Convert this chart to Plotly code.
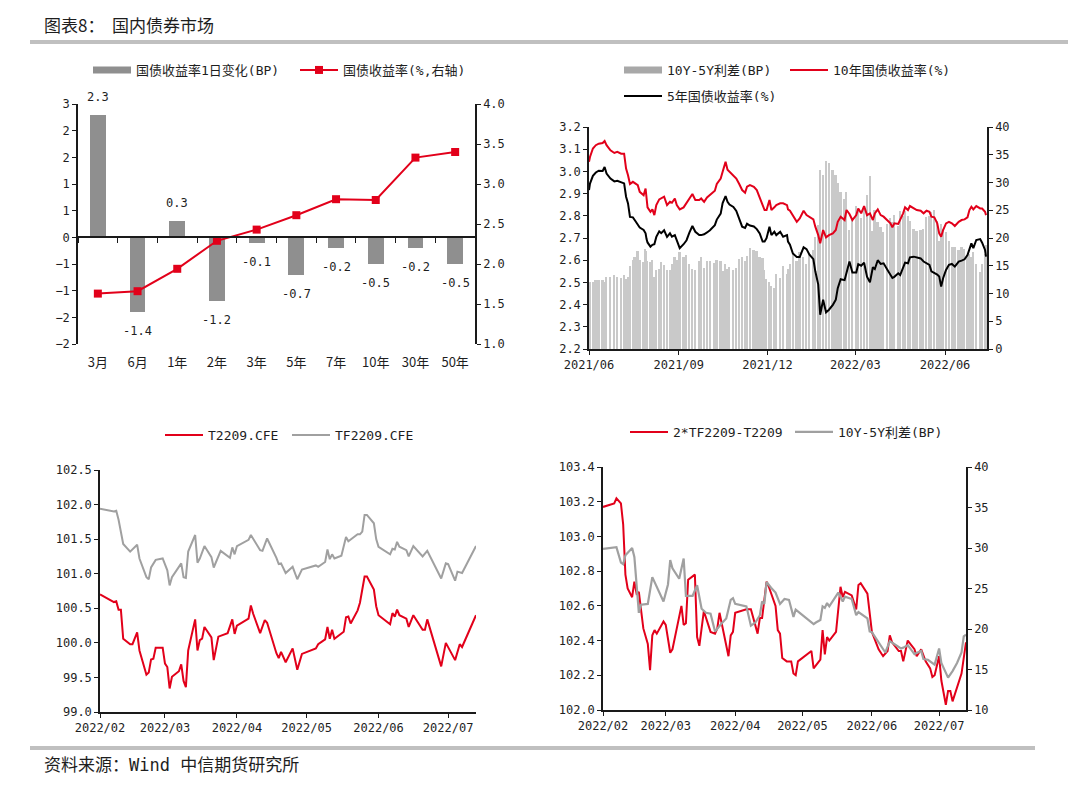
import plotly.graph_objects as go

W, H = 1068, 787
def fx(p): return p / W
def fy(p): return 1 - p / H

MONO = "DejaVu Sans Mono, Noto Sans CJK SC, sans-serif"
CJK = "Noto Sans CJK SC, DejaVu Sans Mono, sans-serif"
RED = "#e2001a"
BAR_DARK = "#8f8f8f"
BAR_LIGHT = "#c9c9c9"
LINE_GRAY = "#a0a0a0"
AX = "#1a1a1a"
TXT = "#1e1e1e"

# ---------------- Chart 1: yield curve ----------------
tenor = ["3月", "6月", "1年", "2年", "3年", "5年", "7年", "10年", "30年", "50年"]
chg_bp = [2.3, -1.4, 0.3, -1.2, -0.1, -0.7, -0.2, -0.5, -0.2, -0.5]
yield_pct = [1.63, 1.66, 1.94, 2.29, 2.43, 2.61, 2.81, 2.80, 3.33, 3.40]

# ---------------- Chart 2: 10Y / 5Y yields ----------------
yc_dates = [
    "2021-06-01", "2021-06-02", "2021-06-05", "2021-06-08", "2021-06-11", "2021-06-15", "2021-06-17", "2021-06-19", "2021-06-23", "2021-06-27",
    "2021-06-30", "2021-07-04", "2021-07-07", "2021-07-09", "2021-07-11", "2021-07-13", "2021-07-16", "2021-07-18", "2021-07-21", "2021-07-23",
    "2021-07-27", "2021-07-29", "2021-07-30", "2021-07-31", "2021-08-03", "2021-08-05", "2021-08-07", "2021-08-09", "2021-08-12", "2021-08-14",
    "2021-08-17", "2021-08-20", "2021-08-23", "2021-08-25", "2021-08-28", "2021-08-30", "2021-09-02", "2021-09-06", "2021-09-09", "2021-09-12",
    "2021-09-15", "2021-09-18", "2021-09-22", "2021-09-24", "2021-09-27", "2021-09-30", "2021-10-03", "2021-10-08", "2021-10-10", "2021-10-14",
    "2021-10-16", "2021-10-19", "2021-10-21", "2021-10-23", "2021-10-27", "2021-10-30", "2021-11-02", "2021-11-05", "2021-11-08", "2021-11-10",
    "2021-11-13", "2021-11-17", "2021-11-20", "2021-11-23", "2021-11-26", "2021-11-28", "2021-11-30", "2021-12-03", "2021-12-05", "2021-12-08",
    "2021-12-10", "2021-12-14", "2021-12-17", "2021-12-21", "2021-12-22",
    "2021-12-24", "2021-12-27", "2021-12-31", "2022-01-03", "2022-01-07", "2022-01-10", "2022-01-13", "2022-01-17", "2022-01-19", "2022-01-22",
    "2022-01-24", "2022-01-27", "2022-01-30", "2022-02-02", "2022-02-06", "2022-02-09", "2022-02-11", "2022-02-14", "2022-02-18", "2022-02-20",
    "2022-02-23", "2022-02-26", "2022-03-02", "2022-03-04", "2022-03-07", "2022-03-10", "2022-03-13", "2022-03-16", "2022-03-19", "2022-03-21",
    "2022-03-24", "2022-03-27", "2022-03-30", "2022-04-03", "2022-04-06", "2022-04-08", "2022-04-10", "2022-04-14", "2022-04-16", "2022-04-19",
    "2022-04-21", "2022-04-24", "2022-04-26", "2022-04-30", "2022-05-03", "2022-05-07", "2022-05-10", "2022-05-13", "2022-05-16", "2022-05-18",
    "2022-05-21", "2022-05-24", "2022-05-26", "2022-05-28", "2022-05-30", "2022-06-02", "2022-06-05", "2022-06-08", "2022-06-11", "2022-06-15",
    "2022-06-18", "2022-06-21", "2022-06-24", "2022-06-26", "2022-06-28", "2022-06-30", "2022-07-03", "2022-07-07", "2022-07-09", "2022-07-12",
    "2022-07-13",
]
y10 = [
    3.043, 3.065, 3.103, 3.118, 3.125, 3.128, 3.137, 3.118, 3.095, 3.083,
    3.088, 3.080, 3.080, 3.013, 2.983, 2.943, 2.953, 2.946, 2.938, 2.908,
    2.893, 2.923, 2.871, 2.838, 2.818, 2.829, 2.803, 2.848, 2.874, 2.878,
    2.886, 2.848, 2.863, 2.859, 2.878, 2.848, 2.829, 2.838, 2.859, 2.878,
    2.898, 2.871, 2.871, 2.878, 2.863, 2.883, 2.893, 2.913, 2.943, 2.968,
    2.998, 3.043, 3.008, 2.998, 2.983, 2.968, 2.943, 2.916, 2.904, 2.931,
    2.938, 2.931, 2.916, 2.886, 2.848, 2.826, 2.826, 2.871, 2.826, 2.838,
    2.848, 2.856, 2.856, 2.848, 2.829,
    2.823, 2.803, 2.773, 2.788, 2.823, 2.803, 2.796, 2.784, 2.751, 2.713,
    2.676, 2.736, 2.703, 2.713, 2.721, 2.736, 2.773, 2.796, 2.781, 2.826,
    2.808, 2.781, 2.803, 2.833, 2.811, 2.844, 2.803, 2.811, 2.781, 2.811,
    2.829, 2.803, 2.796, 2.781, 2.766, 2.748, 2.766, 2.763, 2.781, 2.811,
    2.838, 2.826, 2.844, 2.833, 2.826, 2.823, 2.811, 2.823, 2.818, 2.796,
    2.793, 2.766, 2.721, 2.706, 2.736, 2.766, 2.773, 2.766, 2.754, 2.773,
    2.781, 2.784, 2.793, 2.826, 2.841, 2.829, 2.844, 2.833, 2.833, 2.818,
    2.803,
]
y5 = [
    2.916, 2.945, 2.980, 2.995, 3.003, 3.002, 3.020, 2.990, 2.968, 2.955,
    2.958, 2.953, 2.946, 2.886, 2.856, 2.795, 2.793, 2.780, 2.762, 2.747,
    2.736, 2.721, 2.695, 2.680, 2.661, 2.669, 2.672, 2.705, 2.730, 2.722,
    2.735, 2.705, 2.721, 2.706, 2.713, 2.688, 2.654, 2.672, 2.690, 2.725,
    2.754, 2.728, 2.713, 2.713, 2.717, 2.725, 2.735, 2.758, 2.783, 2.810,
    2.857, 2.889, 2.863, 2.851, 2.840, 2.822, 2.781, 2.751, 2.745, 2.764,
    2.756, 2.752, 2.740, 2.721, 2.684, 2.684, 2.699, 2.751, 2.713, 2.728,
    2.713, 2.728, 2.706, 2.713, 2.684,
    2.670, 2.630, 2.614, 2.614, 2.658, 2.650, 2.625, 2.605, 2.550, 2.490,
    2.354, 2.422, 2.365, 2.377, 2.399, 2.422, 2.474, 2.514, 2.510, 2.544,
    2.594, 2.545, 2.545, 2.582, 2.575, 2.589, 2.526, 2.500, 2.568, 2.560,
    2.600, 2.583, 2.586, 2.556, 2.530, 2.520, 2.525, 2.541, 2.533, 2.571,
    2.589, 2.586, 2.613, 2.616, 2.613, 2.608, 2.594, 2.586, 2.579, 2.550,
    2.543, 2.535, 2.527, 2.481, 2.519, 2.556, 2.579, 2.583, 2.571, 2.594,
    2.598, 2.604, 2.623, 2.654, 2.676, 2.654, 2.691, 2.695, 2.679, 2.646,
    2.616,
]
spread_bp = [
    12, 12, 12, 12.5, 12.5, 12.5, 12, 13, 13, 13.4,
    13, 12.8, 13.4, 12.7, 13, 15, 16, 16.5, 17.6, 16.1,
    15.7, 18.1, 17.6, 15.8, 15.7, 16, 13, 14.3, 14.4, 15.6,
    15.1, 14.3, 14.2, 15.3, 16.5, 16, 17.5, 16.6, 16.9, 15.3,
    14.4, 14.3, 15.8, 16.5, 14.6, 15.8, 15.8, 15.5, 16, 15.8,
    14.1, 15.4, 14.5, 14.7, 14.3, 14.6, 16.2, 16.5, 15.9, 16.7,
    18.2, 17.9, 17.6, 16.5, 16.4, 14.2, 12.7, 12, 11.3, 11,
    13.5, 12.8, 15, 13.5, 14.5,
    15.3, 17.3, 15.9, 17.4, 16.5, 15.3, 17.1, 17.9, 20.1, 22.3,
    32.2, 31.4, 33.8, 33.6, 32.2, 31.4, 29.9, 28.2, 27.1, 28.2,
    21.4, 23.6, 25.8, 25.1, 23.6, 25.5, 27.7, 31.1, 21.3, 25.1,
    22.9, 22, 21, 22.5, 23.6, 22.8, 24.1, 22.2, 24.8, 24,
    24.9, 24, 23.1, 21.7, 21.3, 21.5, 21.7, 23.7, 23.9, 24.6,
    25, 23.1, 19.4, 22.5, 21.7, 21, 19.4, 18.3, 18.3, 17.9,
    18.3, 18, 17, 17.2, 16.5, 17.5, 15.3, 13.8, 15.4, 17.2,
    18.7,
]

# ---------------- Chart 3: T2209 / TF2209 ----------------
t_dates = [
    "2022-02-01", "2022-02-07", "2022-02-08", "2022-02-09", "2022-02-10", "2022-02-11", "2022-02-14", "2022-02-15", "2022-02-17", "2022-02-18",
    "2022-02-21", "2022-02-22", "2022-02-23", "2022-02-24", "2022-02-25", "2022-02-28", "2022-03-01", "2022-03-02", "2022-03-03", "2022-03-04",
    "2022-03-07", "2022-03-08", "2022-03-09", "2022-03-10", "2022-03-11", "2022-03-14", "2022-03-15", "2022-03-16", "2022-03-17", "2022-03-18",
    "2022-03-21", "2022-03-22", "2022-03-24", "2022-03-28", "2022-03-30", "2022-03-31", "2022-04-01", "2022-04-06", "2022-04-07", "2022-04-08",
    "2022-04-11", "2022-04-13", "2022-04-14", "2022-04-18", "2022-04-19", "2022-04-20", "2022-04-22", "2022-04-25", "2022-04-27", "2022-04-29",
    "2022-05-05", "2022-05-06", "2022-05-09", "2022-05-10", "2022-05-11", "2022-05-12", "2022-05-13", "2022-05-17", "2022-05-18", "2022-05-19",
    "2022-05-20", "2022-05-23", "2022-05-24", "2022-05-26", "2022-05-27", "2022-05-30", "2022-05-31", "2022-06-01", "2022-06-06", "2022-06-07",
    "2022-06-08", "2022-06-09", "2022-06-10", "2022-06-13", "2022-06-14", "2022-06-16", "2022-06-20", "2022-06-21", "2022-06-22", "2022-06-28",
    "2022-06-30", "2022-07-01", "2022-07-04", "2022-07-06", "2022-07-07", "2022-07-13",
]
t2209 = [
    100.70, 100.59, 100.60, 100.48, 100.48, 100.06, 99.98, 99.98, 100.15, 99.89,
    99.54, 99.57, 99.76, 99.77, 99.93, 99.93, 99.70, 99.65, 99.34, 99.51,
    99.59, 99.69, 99.45, 99.36, 99.89, 100.34, 99.89, 100.04, 100.06, 100.23,
    100.08, 99.75, 100.09, 100.14, 100.34, 100.13, 100.25, 100.35, 100.54, 100.42,
    100.14, 100.33, 100.29, 99.85, 99.78, 99.87, 99.72, 99.92, 99.61, 99.84,
    99.92, 99.98, 100.05, 100.23, 100.06, 100.19, 100.06, 100.16, 100.37, 100.38,
    100.28, 100.47, 100.58, 100.96, 100.96, 100.77, 100.53, 100.40, 100.27, 100.43,
    100.38, 100.48, 100.40, 100.35, 100.23, 100.40, 100.19, 100.19, 100.34, 99.66,
    100.00, 99.94, 99.75, 99.98, 99.94, 100.40,
]
tf_dates = [
    "2022-02-01", "2022-02-07", "2022-02-08", "2022-02-09", "2022-02-11", "2022-02-14", "2022-02-17", "2022-02-18", "2022-02-21", "2022-02-22",
    "2022-02-23", "2022-02-25", "2022-02-28", "2022-03-02", "2022-03-03", "2022-03-04", "2022-03-08", "2022-03-09", "2022-03-10", "2022-03-11",
    "2022-03-14", "2022-03-15", "2022-03-16", "2022-03-18", "2022-03-21", "2022-03-22", "2022-03-25", "2022-03-29", "2022-03-30", "2022-03-31",
    "2022-04-01", "2022-04-06", "2022-04-07", "2022-04-11", "2022-04-12", "2022-04-14", "2022-04-18", "2022-04-19", "2022-04-20", "2022-04-22",
    "2022-04-25", "2022-04-27", "2022-04-29", "2022-05-05", "2022-05-06", "2022-05-09", "2022-05-10", "2022-05-11", "2022-05-12", "2022-05-13",
    "2022-05-16", "2022-05-18", "2022-05-19", "2022-05-23", "2022-05-24", "2022-05-25", "2022-05-26", "2022-05-27", "2022-05-30", "2022-05-31",
    "2022-06-01", "2022-06-06", "2022-06-07", "2022-06-08", "2022-06-09", "2022-06-10", "2022-06-13", "2022-06-14", "2022-06-16", "2022-06-20",
    "2022-06-22", "2022-06-28", "2022-06-30", "2022-07-01", "2022-07-04", "2022-07-05", "2022-07-07", "2022-07-13",
]
tf2209 = [
    101.94, 101.90, 101.91, 101.78, 101.43, 101.32, 101.42, 101.22, 100.95, 100.92,
    101.09, 101.20, 101.22, 101.05, 100.83, 100.95, 101.15, 100.95, 100.94, 101.32,
    101.56, 101.16, 101.22, 101.40, 101.24, 101.09, 101.33, 101.23, 101.38, 101.28,
    101.40, 101.49, 101.56, 101.34, 101.33, 101.51, 101.23, 101.14, 101.15, 101.01,
    101.10, 100.92, 101.06, 101.12, 101.10, 101.17, 101.35, 101.21, 101.28, 101.22,
    101.26, 101.53, 101.47, 101.57, 101.57, 101.61, 101.85, 101.85, 101.73, 101.50,
    101.39, 101.28, 101.36, 101.35, 101.46, 101.39, 101.34, 101.25, 101.40, 101.25,
    101.33, 100.93, 101.15, 101.14, 100.90, 101.03, 101.01, 101.40,
]

# ---------------- Chart 4: 2*TF-T vs 10Y-5Y ----------------
bf_dates = [
    "2022-02-01", "2022-02-06", "2022-02-07", "2022-02-09", "2022-02-10", "2022-02-11", "2022-02-12", "2022-02-14", "2022-02-15", "2022-02-16",
    "2022-02-17", "2022-02-18", "2022-02-19", "2022-02-21", "2022-02-22", "2022-02-23", "2022-02-24", "2022-02-25", "2022-02-28", "2022-03-01",
    "2022-03-03", "2022-03-04", "2022-03-07", "2022-03-08", "2022-03-09", "2022-03-10", "2022-03-11", "2022-03-14", "2022-03-15", "2022-03-16",
    "2022-03-18", "2022-03-21", "2022-03-23", "2022-03-24", "2022-03-25", "2022-03-26", "2022-03-29", "2022-03-30", "2022-03-31", "2022-04-01",
    "2022-04-06", "2022-04-08", "2022-04-09", "2022-04-11", "2022-04-12", "2022-04-13", "2022-04-15", "2022-04-16", "2022-04-19", "2022-04-20",
    "2022-04-21", "2022-04-22", "2022-04-24", "2022-04-26", "2022-04-27", "2022-04-28", "2022-04-29", "2022-05-03", "2022-05-05", "2022-05-06",
    "2022-05-09", "2022-05-10", "2022-05-11", "2022-05-12", "2022-05-13", "2022-05-16", "2022-05-18", "2022-05-19", "2022-05-20", "2022-05-23",
    "2022-05-25", "2022-05-26", "2022-05-27", "2022-05-30", "2022-06-01", "2022-06-04", "2022-06-06", "2022-06-08", "2022-06-09", "2022-06-10",
    "2022-06-13", "2022-06-14", "2022-06-15", "2022-06-17", "2022-06-20", "2022-06-21", "2022-06-23", "2022-06-25", "2022-06-27", "2022-06-28",
    "2022-06-29", "2022-07-01", "2022-07-02", "2022-07-04", "2022-07-05", "2022-07-06", "2022-07-07", "2022-07-11", "2022-07-13",
]
butterfly = [
    103.17, 103.19, 103.22, 103.19, 103.07, 102.78, 102.70, 102.65, 102.74, 102.67,
    102.68, 102.56, 102.47, 102.38, 102.23, 102.43, 102.46, 102.44, 102.51, 102.49,
    102.33, 102.35, 102.55, 102.60, 102.49, 102.50, 102.75, 102.78, 102.42, 102.37,
    102.57, 102.45, 102.44, 102.47, 102.56, 102.50, 102.31, 102.43, 102.45, 102.56,
    102.58, 102.58, 102.53, 102.44, 102.53, 102.53, 102.74, 102.71, 102.60, 102.46,
    102.44, 102.30, 102.28, 102.28, 102.21, 102.20, 102.28, 102.32, 102.34, 102.24,
    102.29, 102.46, 102.32, 102.42, 102.40, 102.45, 102.71, 102.65, 102.68, 102.66,
    102.58, 102.72, 102.73, 102.67, 102.45, 102.35, 102.31, 102.34, 102.43, 102.39,
    102.34, 102.34, 102.28, 102.40, 102.35, 102.31, 102.35, 102.28, 102.24, 102.19,
    102.20, 102.31, 102.17, 102.03, 102.11, 102.11, 102.05, 102.21, 102.39,
]
sp_dates = [
    "2022-02-01", "2022-02-07", "2022-02-09", "2022-02-10", "2022-02-11", "2022-02-14", "2022-02-15", "2022-02-17", "2022-02-18", "2022-02-21",
    "2022-02-23", "2022-02-26", "2022-02-28", "2022-03-02", "2022-03-03", "2022-03-04", "2022-03-07", "2022-03-09", "2022-03-10", "2022-03-13",
    "2022-03-15", "2022-03-17", "2022-03-19", "2022-03-21", "2022-03-23", "2022-03-26", "2022-03-28", "2022-03-30", "2022-03-31", "2022-04-01",
    "2022-04-06", "2022-04-08", "2022-04-10", "2022-04-12", "2022-04-13", "2022-04-14", "2022-04-15", "2022-04-17", "2022-04-19", "2022-04-21",
    "2022-04-23", "2022-04-25", "2022-04-27", "2022-04-28", "2022-05-06", "2022-05-07", "2022-05-09", "2022-05-10", "2022-05-11", "2022-05-12",
    "2022-05-13", "2022-05-17", "2022-05-19", "2022-05-20", "2022-05-23", "2022-05-25", "2022-05-26", "2022-05-30", "2022-05-31", "2022-06-01",
    "2022-06-04", "2022-06-07", "2022-06-09", "2022-06-12", "2022-06-14", "2022-06-15", "2022-06-17", "2022-06-20", "2022-06-23", "2022-06-24",
    "2022-06-26", "2022-06-29", "2022-07-01", "2022-07-02", "2022-07-05", "2022-07-07", "2022-07-09", "2022-07-11", "2022-07-12", "2022-07-13",
]
spread_bp2 = [
    29.9, 30.1, 28.2, 28.0, 29.1, 30.0, 28.9, 22.0, 23.0, 23.1,
    26.4, 24.5, 23.4, 25.5, 28.5, 27.5, 26.2, 28.7, 24.1, 24.1,
    25.4, 22.5, 22.0, 21.9, 19.7, 20.7, 21.3, 23.6, 23.8, 23.1,
    22.8, 20.4, 20.8, 21.7, 23.4, 23.1, 25.8, 25.1, 24.5, 23.1,
    23.7, 23.6, 21.5, 22.4, 20.6, 20.8, 21.1, 22.8, 22.6, 23.2,
    22.8, 24.5, 23.4, 24.0, 23.7, 21.7, 22.1, 21.3, 19.7, 19.6,
    18.4, 17.1, 18.5, 17.9, 17.6, 17.7, 18.0, 16.9, 17.3, 16.3,
    16.2, 15.6, 17.6, 15.8, 14.0, 14.8, 15.8, 17.1, 19.1, 19.3,
]

fig = go.Figure()

# Chart 1 traces
fig.add_trace(go.Bar(x=tenor, y=chg_bp, marker_color=BAR_DARK, width=0.4,
                     xaxis="x", yaxis="y", showlegend=False, hoverinfo="skip"))
fig.add_trace(go.Scatter(x=tenor, y=[None] * len(tenor), xaxis="x2", yaxis="y",
                         showlegend=False, hoverinfo="skip", mode="lines"))
fig.add_trace(go.Scatter(x=[None], y=[None], mode="lines", line=dict(color=BAR_DARK, width=7),
                         name="国债收益率1日变化(BP)", xaxis="x", yaxis="y", legend="legend"))
fig.add_trace(go.Scatter(x=tenor, y=yield_pct, mode="lines+markers",
                         line=dict(color=RED, width=2),
                         marker=dict(symbol="square", size=8, color=RED),
                         name="国债收益率(%,右轴)", xaxis="x", yaxis="y2", legend="legend2"))

# Chart 2 traces
fig.add_trace(go.Bar(x=yc_dates, y=spread_bp, marker=dict(color=BAR_LIGHT, line=dict(width=0)),
                     width=1.8 * 86400000, xaxis="x3", yaxis="y3", showlegend=False, hoverinfo="skip"))
fig.add_trace(go.Scatter(x=[None], y=[None], mode="lines", line=dict(color="#a8a8a8", width=7),
                         name="10Y-5Y利差(BP)", xaxis="x3", yaxis="y3", legend="legend3"))
fig.add_trace(go.Scatter(x=yc_dates, y=y10, mode="lines", line=dict(color=RED, width=2),
                         name="10年国债收益率(%)", xaxis="x3", yaxis="y4", legend="legend4"))
fig.add_trace(go.Scatter(x=yc_dates, y=y5, mode="lines", line=dict(color="#000000", width=2),
                         name="5年国债收益率(%)", xaxis="x3", yaxis="y4", legend="legend5"))

# Chart 3 traces
fig.add_trace(go.Scatter(x=t_dates, y=t2209, mode="lines", line=dict(color=RED, width=2),
                         name="T2209.CFE", xaxis="x4", yaxis="y5", legend="legend6"))
fig.add_trace(go.Scatter(x=tf_dates, y=tf2209, mode="lines", line=dict(color=LINE_GRAY, width=2),
                         name="TF2209.CFE", xaxis="x4", yaxis="y5", legend="legend7"))

# Chart 4 traces
fig.add_trace(go.Scatter(x=bf_dates, y=butterfly, mode="lines", line=dict(color=RED, width=2),
                         name="2*TF2209-T2209", xaxis="x5", yaxis="y6", legend="legend8"))
fig.add_trace(go.Scatter(x=sp_dates, y=spread_bp2, mode="lines", line=dict(color=LINE_GRAY, width=2.2),
                         name="10Y-5Y利差(BP)", xaxis="x5", yaxis="y7", legend="legend9"))

# bar value labels (chart 1)
annotations = []
for c, v in zip(tenor, chg_bp):
    annotations.append(dict(x=c, y=v, xref="x", yref="y", text=f"{v:.1f}", showarrow=False,
                            yshift=18 if v > 0 else -19,
                            font=dict(family=MONO, size=12, color=TXT)))
annotations.append(dict(x=fx(42), y=fy(24), xref="paper", yref="paper", xanchor="left", yanchor="middle",
                        text="图表8：  国内债券市场", showarrow=False,
                        font=dict(family=CJK, size=17, color=TXT)))
annotations.append(dict(x=fx(42), y=fy(765), xref="paper", yref="paper", xanchor="left", yanchor="middle",
                        text="资料来源：Wind 中信期货研究所", showarrow=False,
                        font=dict(family=MONO, size=17, color=TXT)))

shapes = [
    dict(type="line", xref="paper", yref="paper", x0=fx(30), x1=1.0, y0=fy(42), y1=fy(42),
         line=dict(color="#c0c0c0", width=4)),
    dict(type="line", xref="paper", yref="paper", x0=fx(30), x1=fx(1035), y0=fy(748), y1=fy(748),
         line=dict(color="#c0c0c0", width=4)),
]

axis_common = dict(showgrid=False, zeroline=False, showline=True, linecolor=AX, linewidth=1.5,
                   ticks="outside", ticklen=4, tickcolor=AX, tickwidth=1.2, automargin=False,
                   tickfont=dict(family=MONO, size=12, color=TXT))

# chart 1 axes
y1_range = [-2, 2.5]
y1_dom = [fy(344), fy(104)]
zero_pos = y1_dom[0] + (0 - y1_range[0]) / (y1_range[1] - y1_range[0]) * (y1_dom[1] - y1_dom[0])

def leg(xp, yp):
    return dict(x=fx(xp), y=fy(yp), xanchor="left", yanchor="middle", orientation="h",
                bgcolor="rgba(0,0,0,0)", borderwidth=0, itemwidth=38,
                font=dict(family=MONO, size=13, color=TXT))

fig.update_layout(
    template="none",
    width=W, height=H, margin=dict(l=0, r=0, t=0, b=0, pad=0, autoexpand=False),
    paper_bgcolor="white", plot_bgcolor="white",
    font=dict(family=MONO, size=12, color=TXT),
    bargap=0,
    annotations=annotations, shapes=shapes,
    legend=leg(88, 70), legend2=leg(295, 70),
    legend3=leg(619, 70), legend4=leg(785, 70), legend5=leg(619, 96),
    legend6=leg(160, 435), legend7=leg(287, 435),
    legend8=leg(625, 432), legend9=leg(790, 432),
    xaxis=dict(domain=[fx(78), fx(475)], anchor="y", type="category", categoryorder="array",
               categoryarray=tenor, range=[-0.5, 9.5], showgrid=False, zeroline=False, showline=False,
               ticks="outside", ticklen=6, tickcolor="rgba(0,0,0,0)", automargin=False,
               tickfont=dict(family=CJK, size=13, color=TXT)),
    xaxis2=dict(overlaying="x", anchor="free", position=zero_pos, type="category",
                categoryorder="array", categoryarray=tenor, range=[-0.5, 9.5], automargin=False,
                showgrid=False, zeroline=False, showline=True, linecolor=AX, linewidth=1.5,
                ticks="outside", ticklen=5, tickcolor=AX, tickson="boundaries", showticklabels=False),
    yaxis=dict(domain=y1_dom, anchor="x", range=y1_range, dtick=0.5, tick0=0, tickformat=".0f",
               **axis_common),
    yaxis2=dict(overlaying="y", side="right", anchor="x", range=[1, 4], dtick=0.5, tick0=1,
                tickformat=".1f", **axis_common),
    # chart 2
    xaxis3=dict(domain=[fx(589), fx(987)], anchor="y3", type="date",
                range=["2021-06-01", "2022-07-14"], dtick="M3", tick0="2021-06-01",
                tickformat="%Y/%m", **axis_common),
    yaxis3=dict(domain=[fy(349), fy(127)], anchor="x3", side="right", range=[0, 40], dtick=5,
                **axis_common),
    yaxis4=dict(overlaying="y3", side="left", anchor="x3", range=[2.2, 3.2], dtick=0.1,
                tickformat=".1f", **axis_common),
    # chart 3
    xaxis4=dict(domain=[fx(100), fx(476)], anchor="y5", type="date",
                range=["2022-02-01", "2022-07-13"], dtick="M1", tick0="2022-02-01",
                tickformat="%Y/%m", **axis_common),
    yaxis5=dict(domain=[fy(712), fy(470)], anchor="x4", range=[99, 102.5], dtick=0.5,
                tickformat=".1f", **axis_common),
    # chart 4
    xaxis5=dict(domain=[fx(603), fx(966)], anchor="y6", type="date",
                range=["2022-02-01", "2022-07-13"], dtick="M1", tick0="2022-02-01",
                tickformat="%Y/%m", **axis_common),
    yaxis6=dict(domain=[fy(710), fy(467)], anchor="x5", range=[102, 103.4], dtick=0.2,
                tickformat=".1f", **axis_common),
    yaxis7=dict(overlaying="y6", side="right", anchor="x5", range=[10, 40], dtick=5,
                **axis_common),
)

fig.write_html("out.html")
